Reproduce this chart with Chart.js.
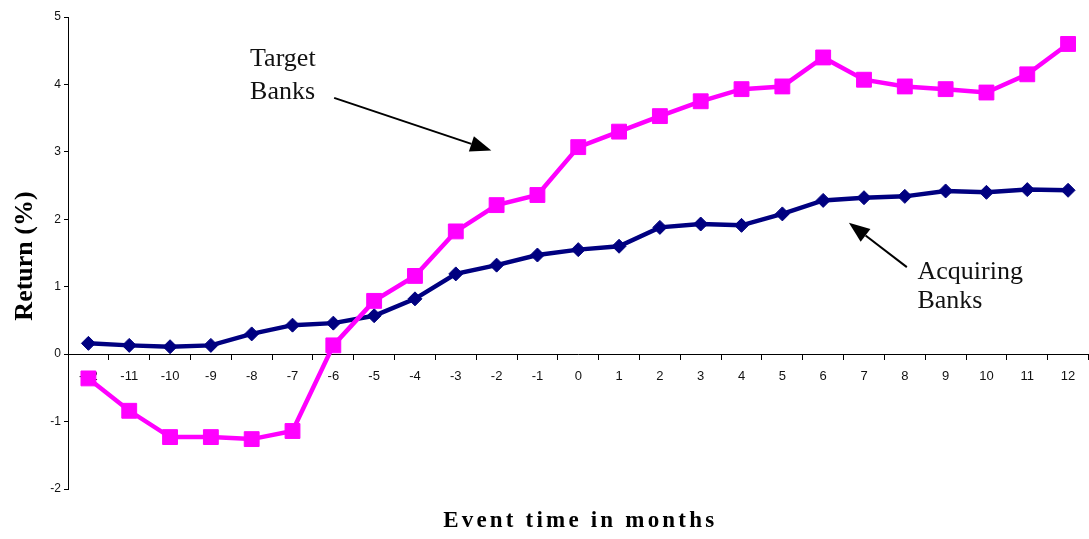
<!DOCTYPE html>
<html>
<head>
<meta charset="utf-8">
<title>Event-time returns of target and acquiring banks</title>
<script src="https://cdn.jsdelivr.net/npm/chart.js@4/dist/chart.umd.min.js"></script>
<style>
  html, body { margin: 0; padding: 0; background: #fff; overflow: hidden; }
  #wrap { width: 1100px; height: 539px; position: relative; }
</style>
</head>
<body>
<div id="wrap"><canvas id="chart" width="1100" height="539"></canvas></div>
<script>
// Event months relative to the announcement
const months = ['-12','-11','-10','-9','-8','-7','-6','-5','-4','-3','-2','-1',
                '0','1','2','3','4','5','6','7','8','9','10','11','12'];

// Cumulative returns (%)
const targetBanks = [-0.36, -0.84, -1.23, -1.23, -1.26, -1.14, 0.13, 0.79, 1.16, 1.82,
                     2.21, 2.36, 3.07, 3.30, 3.53, 3.75, 3.93, 3.97, 4.40, 4.07,
                     3.97, 3.93, 3.88, 4.15, 4.60];
const acquiringBanks = [0.16, 0.13, 0.11, 0.13, 0.30, 0.43, 0.46, 0.57, 0.82, 1.19,
                        1.32, 1.47, 1.55, 1.60, 1.88, 1.93, 1.91, 2.08, 2.28, 2.32,
                        2.34, 2.42, 2.40, 2.44, 2.43];

// Value-axis tick labels
const returnTicks = [-2, -1, 0, 1, 2, 3, 4, 5];

// Callout labels with their arrows, in (month, return) units
const callouts = [
  { lines: ['Target', 'Banks'], x: -8.04, baselines: [4.27, 3.79],
    arrowFrom: [-5.98, 3.80], arrowTo: [-2.13, 3.02] },
  { lines: ['Acquiring', 'Banks'], x: 8.31, baselines: [1.11, 0.68],
    arrowFrom: [8.05, 1.29], arrowTo: [6.63, 1.95] }
];

const yTitle = 'Return (%)';
const xTitle = 'Event time in months';

const firstMonth = Number(months[0]);

const calloutPlugin = {
  id: 'callouts',
  afterDatasetsDraw(chart) {
    const ctx = chart.ctx;
    const xs = chart.scales.x, ys = chart.scales.y;
    const px = m => xs.getPixelForValue(m - firstMonth);
    const py = v => ys.getPixelForValue(v);
    ctx.save();
    ctx.strokeStyle = '#000';
    ctx.font = '26px "Liberation Serif", "Times New Roman", serif';
    ctx.textAlign = 'left';
    ctx.textBaseline = 'alphabetic';
    callouts.forEach(c => {
      ctx.fillStyle = '#111';
      c.lines.forEach((t, i) => ctx.fillText(t, px(c.x), py(c.baselines[i])));
      const x0 = px(c.arrowFrom[0]), y0 = py(c.arrowFrom[1]);
      const x1 = px(c.arrowTo[0]), y1 = py(c.arrowTo[1]);
      const ang = Math.atan2(y1 - y0, x1 - x0);
      const headLen = 21, headHalf = 8;
      const bx = x1 - headLen * Math.cos(ang), by = y1 - headLen * Math.sin(ang);
      ctx.lineWidth = 2;
      ctx.beginPath();
      ctx.moveTo(x0, y0);
      ctx.lineTo(bx, by);
      ctx.stroke();
      ctx.beginPath();
      ctx.moveTo(x1, y1);
      ctx.lineTo(bx + headHalf * Math.sin(ang), by - headHalf * Math.cos(ang));
      ctx.lineTo(bx - headHalf * Math.sin(ang), by + headHalf * Math.cos(ang));
      ctx.closePath();
      ctx.fillStyle = '#000';
      ctx.fill();
    });
    ctx.restore();
  },
  afterDraw(chart) {
    const ctx = chart.ctx;
    const area = chart.chartArea;
    ctx.save();
    ctx.fillStyle = '#000';
    ctx.font = 'bold 26px "Liberation Serif", "Times New Roman", serif';
    ctx.textAlign = 'center';
    ctx.textBaseline = 'middle';
    ctx.translate(25, (area.top + area.bottom) / 2 + 3);
    ctx.rotate(-Math.PI / 2);
    ctx.fillText(yTitle, 0, 0);
    ctx.restore();

    ctx.save();
    ctx.fillStyle = '#000';
    ctx.font = 'bold 23px "Liberation Serif", "Times New Roman", serif';
    ctx.textAlign = 'center';
    ctx.textBaseline = 'alphabetic';
    if ('letterSpacing' in ctx) ctx.letterSpacing = '3.2px';
    ctx.fillText(xTitle, (area.left + area.right) / 2 + 2, 527);
    ctx.restore();
  }
};

new Chart(document.getElementById('chart'), {
  type: 'line',
  data: {
    labels: months,
    datasets: [
      {
        label: 'Target Banks',
        data: targetBanks,
        borderColor: '#FF00FF',
        backgroundColor: '#FF00FF',
        borderWidth: 4.5,
        pointStyle: 'rect',
        pointRadius: 10.5,
        pointBorderWidth: 1,
        tension: 0
      },
      {
        label: 'Acquiring Banks',
        data: acquiringBanks,
        borderColor: '#000080',
        backgroundColor: '#000080',
        borderWidth: 4.5,
        pointStyle: 'rectRot',
        pointRadius: 7,
        pointBorderWidth: 1,
        tension: 0
      }
    ]
  },
  options: {
    responsive: false,
    animation: false,
    devicePixelRatio: 1,
    layout: { padding: { left: 0, right: 3, top: 17, bottom: 50 } },
    plugins: { legend: { display: false }, tooltip: { enabled: false } },
    scales: {
      x: {
        type: 'category',
        position: { y: 0 },
        offset: true,
        z: 1,
        grid: { display: true, drawOnChartArea: false, drawTicks: true, tickLength: 5,
                tickColor: '#000', offset: true },
        border: { display: true, color: '#000', width: 1 },
        ticks: { font: { family: '"Liberation Sans", Arial, sans-serif', size: 13 },
                 color: '#111', padding: 9, maxRotation: 0, autoSkip: false }
      },
      y: {
        min: returnTicks[0],
        max: returnTicks[returnTicks.length - 1],
        afterBuildTicks(scale) { scale.ticks = returnTicks.map(v => ({ value: v })); },
        grid: { display: true, drawOnChartArea: false, drawTicks: true, tickLength: 4,
                tickColor: '#000' },
        border: { display: true, color: '#000', width: 1 },
        ticks: { font: { family: '"Liberation Sans", Arial, sans-serif', size: 12 },
                 color: '#111', padding: 3 },
        afterFit(scale) { scale.width = 68; }
      }
    }
  },
  plugins: [calloutPlugin]
});
</script>
</body>
</html>
